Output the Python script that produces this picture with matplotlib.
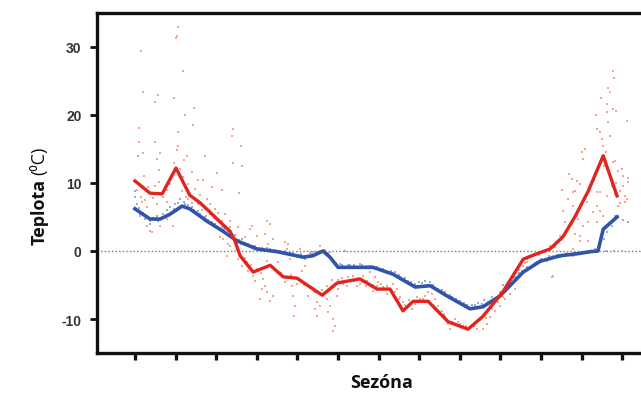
import matplotlib
matplotlib.use("Agg")
import matplotlib.pyplot as plt

# season position (tick units) and temperature in degrees C
red_x = [0.00, 0.37, 0.67, 1.01, 1.35, 1.60, 1.85, 2.09, 2.34, 2.46, 2.59, 2.91,
         3.33, 3.65, 3.99, 4.61, 4.98, 5.54, 5.96, 6.28, 6.60, 6.85, 7.22, 7.71,
         8.20, 8.57, 9.06, 9.56, 9.90, 10.22, 10.54, 10.84, 11.16, 11.53, 11.87]
red_y = [10.3, 8.5, 8.4, 12.2, 8.2, 7.1, 5.7, 4.3, 2.9, 1.5, -0.7, -3.1,
         -2.1, -3.8, -4.0, -6.5, -4.7, -4.1, -5.6, -5.6, -8.8, -7.4, -7.4, -10.4,
         -11.5, -9.6, -6.0, -1.2, -0.4, 0.3, 2.1, 5.1, 8.8, 14.0, 8.1]

blue_x = [0.00, 0.37, 0.62, 0.86, 1.16, 1.35, 1.77, 2.17, 2.51, 3.00, 3.50, 4.14,
          4.38, 4.63, 4.80, 5.00, 5.47, 5.86, 6.35, 6.90, 7.27, 7.68, 8.25, 8.57,
          8.99, 9.56, 9.98, 10.47, 10.89, 11.21, 11.40, 11.53, 11.87]
blue_y = [6.2, 4.7, 4.7, 5.4, 6.6, 6.2, 4.4, 2.9, 1.5, 0.3, -0.1, -0.9,
          -0.7, 0.0, -0.9, -2.4, -2.4, -2.4, -3.4, -5.3, -5.1, -6.6, -8.5, -8.2,
          -6.6, -3.1, -1.5, -0.7, -0.4, -0.1, 0.0, 3.2, 5.0]

# daily observations, outlying ones
red_pts_x = [0.15, 0.20, 0.57, 0.49, 0.96, 1.06, 1.01, 1.03, 1.18, 1.23, 1.45, 1.43,
             0.10, 0.10, 0.49, 0.62, 0.20, 0.54, 1.06, 1.06, 1.03, 1.28, 1.21, 1.72,
             1.40, 2.02, 2.41, 2.39, 2.61, 2.41, 2.64, 2.14, 2.56, 1.55, 1.67, 0.59,
             0.22, 0.30, 0.37, 0.42, 0.12, 0.17, 0.54, 0.79, 1.03, 0.79, 0.94, 0.62,
             0.37, 0.32, 0.74, 0.86, 1.18, 1.31, 1.48, 1.60, 1.77, 1.90, 1.55, 1.31,
             1.97, 2.22, 2.04, 2.34, 2.54, 2.39, 2.71, 2.83, 2.29, 1.72, 1.85, 2.09,
             2.14, 2.27, 2.17, 2.34, 2.27, 2.46, 2.54, 2.64, 2.76, 2.78, 2.91, 2.96,
             3.15, 3.20, 3.25, 3.33, 3.08, 3.13, 3.40, 3.28, 3.40, 3.45, 3.52, 3.69,
             3.74, 3.82, 3.87, 3.89, 3.94, 3.92, 4.01, 4.11, 4.19, 4.24, 4.26, 4.48,
             4.43, 4.48, 4.56, 4.73, 4.73, 4.80, 4.75, 4.88, 4.93, 4.88, 4.98, 5.00,
             5.12, 5.22, 5.30, 5.37, 5.47, 5.54, 5.62, 5.71, 5.79, 5.86, 5.96, 2.88,
             3.00, 3.20, 3.33, 3.25, 3.77, 4.06, 4.24, 4.38, 4.56, 4.80,
             5.79, 5.91, 5.99, 6.11, 6.21, 6.28, 6.35, 6.45, 6.53, 6.60, 6.72, 6.82,
             6.90, 7.02, 7.14, 7.22, 7.32, 7.39, 7.46, 7.56, 7.64, 7.71, 7.76, 7.88,
             7.96, 8.08, 8.25, 8.42, 8.57, 8.67, 8.74, 8.87, 8.99, 9.11, 9.24, 9.36,
             9.48, 9.56, 9.66,
             10.27, 9.98, 10.15, 9.66, 10.30, 10.47, 10.64, 10.79, 10.79,
             11.77, 11.80, 11.65, 11.70, 11.48, 11.63, 11.77, 11.85, 11.63, 12.12, 11.35,
             11.65, 11.38, 11.45, 11.70, 11.50, 11.08, 11.01, 11.03, 11.77, 11.90, 12.02,
             12.14, 10.69, 10.76, 10.52, 10.84, 11.38, 11.45, 11.63, 11.82, 12.02, 12.12,
             11.90, 12.07, 11.13, 11.38, 11.28, 11.45, 11.53, 11.38, 11.16, 11.03, 10.91,
             10.79, 10.67, 10.54, 10.59, 10.84, 10.96, 10.96, 11.16, 10.47, 10.37, 10.22,
             10.30, 11.82, 11.99, 12.14, 11.95, 12.07, 10.89, 10.96, 10.79, 11.60, 11.53]
red_pts_y = [29.4, 23.4, 22.9, 21.9, 22.5, 32.9, 31.3, 31.6, 26.5, 20.0, 21.0, 18.5,
             18.1, 16.0, 16.0, 14.4, 14.4, 13.5, 17.5, 15.4, 14.9, 14.0, 13.4, 14.0,
             11.6, 11.5, 17.9, 16.9, 15.4, 12.9, 12.5, 9.0, 8.5, 10.4, 10.4, 11.9,
             11.0, 3.7, 2.9, 2.8, 5.1, 7.2, 6.9, 7.2, 6.2, 4.7, 3.7, 3.7,
             4.4, 9.4, 9.1, 9.9, 10.9, 9.9, 9.1, 8.2, 7.6, 9.4, 6.9, 7.6,
             6.2, 5.4, 4.4, 4.4, 3.5, 2.5, 2.1, 3.2, 1.0, 6.2, 6.9, 2.1,
             4.4, 3.2, 1.8, 0.7, -0.7, 0.0, -1.2, -2.2, -1.6, -2.9, -3.7, -4.4,
             -4.1, -5.1, -6.0, -7.4, -7.1, -5.6, -6.6, 1.0, 1.8, -0.1, -1.6, 1.3,
             0.3, -1.2, -5.1, -6.6, -8.1, -9.6, -4.1, -2.9, -2.2, -5.1, -6.6, -7.5,
             -8.5, -9.6, -8.1, -5.1, -7.1, -8.1, -9.0, -10.0, -11.0, -11.8, -6.6, -5.6,
             -4.9, -5.1, -4.4, -3.7, -5.1, -4.9, -3.7, -4.4, -4.9, -5.9, -5.1, 3.7,
             2.2, 2.5, 4.0, 4.4, 1.0, 0.3, -0.7, -0.1, 0.7, -0.1,
             -3.1, -3.8, -4.6, -5.3, -6.3, -5.6, -4.9, -5.6, -6.8, -7.5, -8.2, -8.5,
             -7.8, -7.1, -6.6, -6.0, -6.3, -7.1, -8.1, -8.8, -9.6, -10.7, -11.5, -10.0,
             -10.4, -11.0, -11.2, -11.5, -11.5, -10.7, -9.7, -8.8, -8.1, -7.1, -6.3, -5.6,
             -3.7, -2.2, -1.2,
             -3.8, -1.6, -1.5, -1.6, -0.7, -0.7, -0.1, -0.7, 0.3,
             26.5, 25.4, 24.0, 23.4, 22.5, 21.6, 20.9, 20.6, 20.4, 19.1, 20.0,
             19.0, 17.9, 17.5, 16.9, 16.5, 15.0, 14.6, 13.5, 13.1, 11.8, 11.0,
             10.7, 11.3, 10.6, 9.0, 8.8, 8.7, 8.7, 8.1, 8.4, 9.6, 7.6,
             6.6, 7.2, 7.2, 6.6, 5.7, 5.9, 5.1, 4.3, 4.3, 3.7, 4.7,
             6.6, 7.6, 5.9, 4.3, 2.5, 2.2, 1.5, 1.5, 2.2, 1.3, 0.7,
             -3.7, 13.2, 12.1, 10.1, 8.8, 8.1, 10.3, 9.9, 8.7, 14.6, 15.4]

# daily observations close to the red curve
red_near_x = [0.05, 0.15, 0.25, 0.30, 0.45, 0.50, 0.60, 0.70, 0.80, 0.90, 0.95, 1.10,
              1.15, 1.25, 1.40, 1.50, 1.65, 1.75, 1.95, 2.05, 2.20, 2.35, 2.45, 2.60,
              2.70, 2.85, 3.00, 3.10, 3.25, 3.45, 3.60, 3.70, 3.85, 4.00, 4.15, 4.30,
              4.40, 4.60, 4.70, 4.85, 5.00, 5.10, 5.25, 5.40, 5.60, 5.70, 5.85, 6.05,
              6.20, 6.40, 6.50, 6.65, 6.75, 6.95, 7.10, 7.30, 7.50, 7.60, 7.80, 8.00,
              8.15, 8.35, 8.50, 8.65, 8.80, 8.95, 9.05, 9.20, 9.30, 9.45, 9.60, 9.80,
              9.95, 10.10, 10.35, 10.50, 10.65, 10.75, 10.90, 11.00, 11.20, 11.30, 11.40,
              11.55, 11.70, 11.75, 11.85, 11.95]
red_near_y = [9.0, 8.0, 7.5, 6.5, 7.8, 9.5, 10.2, 8.0, 9.0, 11.0, 13.0, 12.0,
              8.8, 8.0, 7.0, 7.5, 6.0, 5.2, 4.8, 5.6, 3.8, 3.6, 2.0, 1.0,
              -1.0, -2.0, -2.6, -3.2, -1.5, -2.8, -3.2, -4.5, -3.5, -4.8, -5.0, -5.5,
              -6.0, -5.8, -6.0, -4.2, -4.2, -3.9, -3.8, -4.4, -4.6, -5.2, -5.0, -4.9,
              -5.2, -6.0, -7.0, -8.0, -7.2, -6.8, -7.0, -7.8, -9.0, -9.2, -10.5, -10.8,
              -11.0, -11.0, -10.2, -9.8, -8.6, -7.5, -6.8, -5.2, -4.0, -2.8, -1.8, -0.8,
              -0.6, -0.2, 0.6, 1.6, 3.0, 4.0, 6.0, 7.0, 9.5, 10.5, 12.0,
              12.5, 11.0, 9.5, 10.0, 7.0]

blue_pts_x = [0.07, 0.00, 0.00, 0.05, 0.12, 0.25, 0.37, 0.57, 0.74, 0.86, 0.99, 1.11,
              1.23, 1.40, 1.55, 1.72, 1.85, 1.97, 2.14, 2.29, 2.46, 2.64, 2.78, 2.96,
              3.13, 3.33, 3.57, 3.82, 4.01, 4.19, 4.36, 4.51, 4.68, 4.88, 5.05, 5.17,
              5.30, 5.54, 5.74, 5.99, 6.16, 6.40, 6.53, 6.72, 6.90, 7.07, 7.27, 7.46,
              7.64, 7.81, 8.00, 8.18, 8.37, 8.55, 8.69, 8.87, 8.99, 9.11, 9.24, 9.36,
              9.53, 9.73, 9.90, 10.10, 10.27, 10.47, 10.71, 10.91, 11.11, 11.33, 11.45,
              11.55, 11.63, 11.75, 11.82, 11.90, 12.02, 12.14,
              0.10, 0.20, 0.30, 0.45, 0.55, 0.70, 0.80, 0.95, 1.05, 1.20, 1.30, 1.45,
              1.60, 1.80, 1.90, 2.05, 2.20, 2.40, 2.55, 2.70, 2.90, 3.05, 3.25, 3.45,
              3.70, 3.90, 4.10, 4.30, 4.45, 4.55, 4.75, 4.95, 5.10, 5.25, 5.40, 5.60,
              5.80, 5.95, 6.10, 6.30, 6.50, 6.65, 6.80, 7.00, 7.15, 7.35, 7.55, 7.75,
              7.90, 8.10, 8.30, 8.45, 8.60, 8.80, 9.05, 9.20, 9.45, 9.65, 9.85, 10.00,
              10.20, 10.40, 10.60, 10.80, 11.00, 11.20, 11.40, 11.60, 11.80, 12.00]
blue_pts_y = [14.0, 8.8, 7.9, 6.9, 5.4, 4.7, 4.0, 4.4, 5.0, 6.5, 6.9, 7.6,
              6.9, 6.5, 5.9, 5.0, 5.4, 4.0, 3.5, 2.9, 2.4, 1.8, 1.0, 0.7,
              0.4, 0.3, 0.0, -0.3, -0.6, -1.2, -0.4, -0.1, 0.1, -1.5, -1.9, 0.0,
              -2.1, -1.9, -2.2, -2.6, -2.9, -3.1, -3.8, -4.4, -4.9, -4.7, -4.6, -5.6,
              -6.0, -6.8, -7.4, -7.9, -7.9, -7.8, -7.5, -7.1, -6.0, -5.6, -4.6, -3.8,
              -2.9, -2.4, -1.6, -1.3, -0.9, -0.9, -0.6, -0.4, -0.3, 0.3, 1.8,
              1.8, 2.8, 3.7, 5.1, 5.1, 4.6, 4.3,
              6.3, 5.6, 5.2, 4.8, 5.2, 5.5, 6.0, 6.2, 7.0, 7.2, 6.8, 6.0,
              5.4, 4.6, 4.2, 3.6, 3.2, 2.2, 1.6, 1.2, 0.8, 0.5, 0.5, 0.2,
              0.0, -0.2, -0.5, -0.3, -0.2, 0.0, -0.3, -1.8, -2.0, -2.0, -2.0, -2.0,
              -2.2, -2.4, -2.6, -3.0, -3.6, -4.0, -4.6, -4.6, -4.4, -5.0, -5.8, -6.4,
              -7.0, -7.6, -8.0, -7.6, -7.2, -6.8, -5.0, -4.4, -3.2, -2.4, -1.8, -1.2,
              -0.8, -0.6, -0.5, -0.3, -0.2, -0.1, 0.0, 0.0, 0.0, 0.0]

y_ticks = [-10, 0, 10, 20, 30]
x_ticks = list(range(13))

fig = plt.figure(figsize=(6.41, 4.02), dpi=100)
ax = fig.add_axes([0.151, 0.1194, 0.849, 0.8458])

ax.axhline(0, color="#777777", lw=1.0, ls=(0, (1, 1.6)), zorder=1)
ax.scatter(red_pts_x, red_pts_y, s=4.5, marker="s", color="#f5a68c", lw=0, zorder=2)
ax.scatter(red_near_x, red_near_y, s=4.5, marker="s", color="#f5a68c", lw=0, zorder=2)
ax.scatter(blue_pts_x, blue_pts_y, s=4.5, marker="s", color="#98a9e2", lw=0, zorder=2)
ax.plot(blue_x, blue_y, color="#3153a8", lw=2.6, zorder=3)
ax.plot(red_x, red_y, color="#e3231d", lw=2.4, zorder=4)

ax.set_xlim(-0.94, 12.46)
ax.set_ylim(-15, 35)
ax.set_xticks(x_ticks)
ax.set_xticklabels([])
ax.set_yticks(y_ticks)
ax.set_yticklabels([str(t) for t in y_ticks], fontsize=10, fontweight="bold",
                   color="#333333", family="Liberation Sans")

for side in ["left", "bottom", "top"]:
    ax.spines[side].set_linewidth(2.4)
    ax.spines[side].set_color("#111111")
ax.spines["right"].set_visible(False)
ax.tick_params(axis="y", direction="out", length=5, width=2, pad=6, colors="#111111",
               labelcolor="#333333")
ax.tick_params(axis="x", direction="out", length=5, width=2.4, colors="#111111")

fig.text(0.596, 0.025, "Sezóna", ha="center", va="bottom", fontsize=13,
         fontweight="bold", family="Open Sans", color="#111111")

# y label: bold word + regular unit
t1 = fig.text(0.062, 0.39, "Teplota", rotation=90, ha="center", va="bottom",
              fontsize=13, fontweight="bold", family="Open Sans", color="#111111")
fig.canvas.draw()
bb = t1.get_window_extent().transformed(fig.transFigure.inverted())
fig.text(0.062, bb.y1 + 0.01, "(\u2070C)", rotation=90, ha="center", va="bottom",
         fontsize=13, family="Open Sans", color="#111111")

fig.savefig("out.png", dpi=100)
